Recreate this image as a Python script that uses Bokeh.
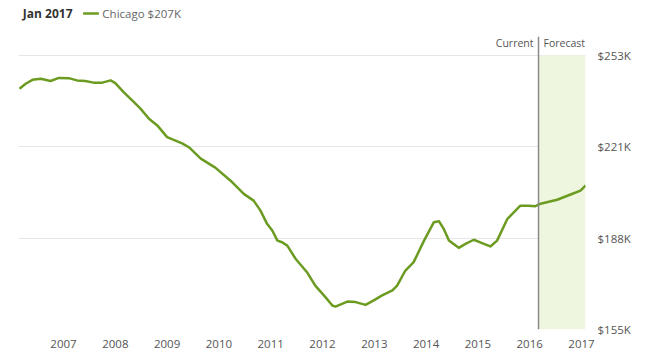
from bokeh.plotting import figure
from bokeh.layouts import column
from bokeh.models import (Range1d, FixedTicker, LinearAxis, BoxAnnotation, Span, Label)
from bokeh.core.properties import value
from bokeh.embed import file_html
from bokeh.resources import INLINE

# ---- data (home value index, $K) ----
years = [2006.15, 2006.27, 2006.40, 2006.56, 2006.75, 2006.91, 2007.10, 2007.26, 2007.42, 2007.58,
         2007.75, 2007.91, 2008.00, 2008.16, 2008.36, 2008.49, 2008.65, 2008.81, 2009.00, 2009.29,
         2009.42, 2009.65, 2009.93, 2010.22, 2010.48, 2010.67, 2010.80, 2010.93, 2011.03, 2011.13,
         2011.22, 2011.32, 2011.48, 2011.70, 2011.86, 2012.06, 2012.19, 2012.25, 2012.48, 2012.64,
         2012.83, 2012.99, 2013.15, 2013.35, 2013.44, 2013.60, 2013.76, 2013.96, 2014.15, 2014.25,
         2014.34, 2014.44, 2014.63, 2014.76, 2014.92, 2015.08, 2015.24, 2015.37, 2015.57, 2015.82,
         2015.98, 2016.11, 2016.21, 2016.53, 2016.79, 2016.98, 2017.08]
values = [241.1, 242.9, 244.3, 244.7, 243.9, 245.0, 244.9, 244.1, 243.9, 243.3,
          243.3, 244.1, 243.1, 239.9, 236.3, 233.9, 230.4, 228.0, 223.8, 221.6,
          220.2, 216.1, 212.9, 208.3, 203.5, 201.1, 197.6, 192.8, 190.4, 186.8,
          186.2, 185.0, 180.3, 175.5, 170.7, 166.5, 163.6, 163.2, 165.0, 164.8,
          163.8, 165.4, 167.2, 169.0, 170.7, 176.1, 179.1, 186.8, 193.4, 193.7,
          191.0, 186.8, 184.2, 185.6, 187.1, 185.9, 184.7, 186.8, 194.6, 199.3,
          199.3, 199.1, 200.0, 201.4, 203.3, 204.7, 206.5]
x_ticks = [2007, 2008, 2009, 2010, 2011, 2012, 2013, 2014, 2015, 2016, 2017]
x_tick_labels = ["2007", "2008", "2009", "2010", "2011", "2012", "2013", "2014", "2015", "2016", "2017"]
y_ticks = [155, 187.67, 220.33, 253]
y_tick_labels = ["$155K", "$188K", "$221K", "$253K"]
current_x = 2016.17
forecast_end = 2017.077
series_label = "Chicago $207K"
title_text = "Jan 2017"

LINE = "#6b9b21"
SHADE = "#eef6df"
FONT = "Open Sans"
HEAD_H = 28

# ---- header strip: title + legend (coordinates are pixels in this strip) ----
h = figure(width=649, height=HEAD_H, output_backend="svg", toolbar_location=None,
           title_location=None, x_range=Range1d(0, 649), y_range=Range1d(0, HEAD_H),
           min_border_left=0, min_border_right=0, min_border_top=0, min_border_bottom=0,
           x_axis_location=None, y_axis_location=None)
h.outline_line_color = None
h.grid.visible = False
row_y = HEAD_H - 13
h.text(x=[5], y=[row_y], text=[title_text], text_font=value(FONT),
       text_font_style="bold", text_font_size="12px", text_color="#333333",
       text_baseline="middle", text_align="left")
h.segment(x0=[74], y0=[row_y], x1=[92], y1=[row_y], line_color=LINE, line_width=2.5)
h.text(x=[96], y=[row_y], text=[series_label], text_font=value(FONT),
       text_font_size="11.5px", text_color="#666666",
       text_baseline="middle", text_align="left")

# ---- main chart ----
p = figure(width=649, height=363 - HEAD_H, output_backend="svg", toolbar_location=None,
           title_location=None,
           x_range=Range1d(2006.131, forecast_end), y_range=Range1d(155, 259.8),
           min_border_left=18, min_border_right=64, min_border_top=36 - HEAD_H,
           min_border_bottom=34, x_axis_location=None, y_axis_location=None)
p.outline_line_color = None
p.background_fill_color = "white"
p.border_fill_color = "white"

xax = LinearAxis(ticker=FixedTicker(ticks=x_ticks))
xax.major_label_overrides = {t: s for t, s in zip(x_ticks, x_tick_labels)}
yax = LinearAxis(ticker=FixedTicker(ticks=y_ticks))
yax.major_label_overrides = {t: s for t, s in zip(y_ticks, y_tick_labels)}
for ax, standoff in ((xax, 10), (yax, 12)):
    ax.axis_line_color = None
    ax.major_tick_line_color = None
    ax.minor_tick_line_color = None
    ax.major_tick_out = 0
    ax.major_tick_in = 0
    ax.major_label_standoff = standoff
    ax.major_label_text_font = FONT
    ax.major_label_text_font_size = "11.5px"
    ax.major_label_text_color = "#555555"
p.add_layout(xax, "below")
p.add_layout(yax, "right")

p.xgrid.visible = False
p.ygrid.ticker = FixedTicker(ticks=y_ticks)
p.ygrid.grid_line_color = "#e6e6e6"
p.ygrid.grid_line_width = 1

p.add_layout(BoxAnnotation(left=current_x, right=forecast_end, bottom=y_ticks[0], top=y_ticks[-1],
                           fill_color=SHADE, fill_alpha=1, line_color=None, level="underlay"))
p.add_layout(Span(location=current_x, dimension="height", line_color="#8a8a8a", line_width=1.5))

p.line(years, values, line_color=LINE, line_width=2.5, line_join="round")

p.add_layout(Label(x=current_x, y=287, y_units="screen", text="Current", x_offset=-5,
                   text_align="right", text_baseline="middle", text_font=FONT,
                   text_font_size="10.5px", text_color="#555555"))
p.add_layout(Label(x=current_x, y=287, y_units="screen", text="Forecast", x_offset=5,
                   text_align="left", text_baseline="middle", text_font=FONT,
                   text_font_size="10.5px", text_color="#555555"))

layout = column(h, p, spacing=0)
open("out.html", "w").write(file_html(layout, INLINE))
